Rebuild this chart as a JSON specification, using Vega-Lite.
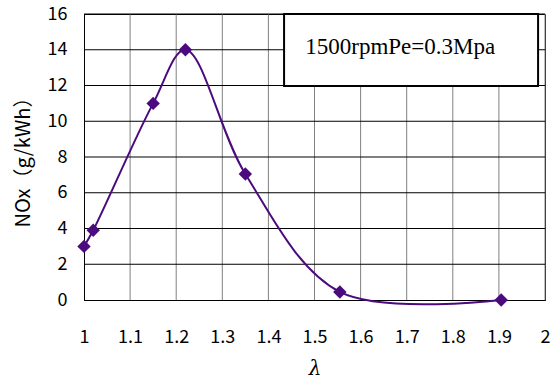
{
  "$schema": "https://vega.github.io/schema/vega-lite/v6.json",
  "width": 461,
  "height": 286,
  "autosize": {"type": "none"},
  "padding": {"left": 84, "top": 14, "right": 7, "bottom": 79},
  "background": "white",
  "config": {
    "view": {"stroke": "black", "strokeWidth": 1},
    "axis": {"grid": false, "ticks": false, "labelOverlap": false, "domainColor": "black", "labelColor": "black", "titleColor": "black", "titleFontWeight": "normal", "labelFlush": false},
    "axisX": {"labelFont": "Noto Sans CJK JP", "labelFontSize": 18, "labelPadding": 28, "titleFont": "DejaVu Serif", "titleFontSize": 20, "titleFontStyle": "italic", "titlePadding": 12},
    "axisY": {"labelFont": "Noto Sans CJK JP", "labelFontSize": 18, "labelPadding": 17, "titleFont": "Noto Sans CJK JP", "titleFontSize": 20, "titlePadding": 14}
  },
  "datasets": {
    "pts": [
      {"lambda": 1.0, "nox": 3.0},
      {"lambda": 1.02, "nox": 3.9},
      {"lambda": 1.15, "nox": 11.0},
      {"lambda": 1.22, "nox": 14.0},
      {"lambda": 1.35, "nox": 7.05},
      {"lambda": 1.555, "nox": 0.45},
      {"lambda": 1.905, "nox": 0.0}
    ],
    "vgrid": [{"g": 1.1}, {"g": 1.2}, {"g": 1.3}, {"g": 1.4}, {"g": 1.5}, {"g": 1.6}, {"g": 1.7}, {"g": 1.8}, {"g": 1.9}, {"g": 2.0}],
    "hgrid": [{"h": 2}, {"h": 4}, {"h": 6}, {"h": 8}, {"h": 10}, {"h": 12}, {"h": 14}, {"h": 16}],
    "note": [{"x1": 1.434, "x2": 1.985, "y1": 16, "y2": 11.97, "tx": 1.48, "ty": 14.15, "label": "1500rpmPe=0.3Mpa"}]
  },
  "data": {"name": "pts"},
  "encoding": {
    "x": {"field": "lambda", "type": "quantitative", "scale": {"domain": [1, 2]},
      "axis": {"title": "λ", "values": [1, 1.1, 1.2, 1.3, 1.4, 1.5, 1.6, 1.7, 1.8, 1.9, 2], "format": "~g", "labelOverlap": false}},
    "y": {"field": "nox", "type": "quantitative", "scale": {"domain": [0, 16]},
      "axis": {"title": "NOx（g/kWh）", "values": [0, 2, 4, 6, 8, 10, 12, 14, 16], "labelOverlap": false}}
  },
  "layer": [
    {
      "mark": {"type": "rule", "color": "#808080", "strokeWidth": 1},
      "data": {"name": "vgrid"},
      "encoding": {"x": {"field": "g"}, "y": {"value": 0}, "y2": {"value": 286}}
    },
    {
      "mark": {"type": "rule", "color": "black", "strokeWidth": 1},
      "data": {"name": "hgrid"},
      "encoding": {"y": {"field": "h"}, "x": {"value": 0}, "x2": {"value": 461}}
    },
    {
      "mark": {"type": "line", "color": "#4B0A7E", "strokeWidth": 2, "interpolate": "catmull-rom"},
      "encoding": {}
    },
    {
      "mark": {"type": "point", "shape": "diamond", "filled": true, "color": "#4B0A7E", "size": 180, "opacity": 1},
      "encoding": {}
    },
    {
      "mark": {"type": "rect", "fill": "white", "stroke": "black", "strokeWidth": 2},
      "data": {"name": "note"},
      "encoding": {"x": {"field": "x1"}, "x2": {"field": "x2"}, "y": {"field": "y1"}, "y2": {"field": "y2"}}
    },
    {
      "mark": {"type": "text", "font": "Liberation Serif", "fontSize": 23, "fontWeight": "normal", "align": "left", "baseline": "middle", "color": "black"},
      "data": {"name": "note"},
      "encoding": {"x": {"field": "tx"}, "y": {"field": "ty"}, "text": {"field": "label"}}
    }
  ]
}
